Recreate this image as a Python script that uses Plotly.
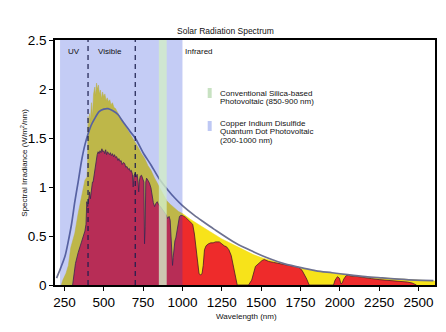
import plotly.graph_objects as go

# ---------------- data ----------------
# Extraterrestrial spectrum (yellow)
am0_nm = [230, 240, 260, 275, 290, 300, 316, 337, 360, 380, 393, 397, 400, 405, 410, 415,
          422, 428, 435, 443, 448, 454, 460, 466, 472, 478, 486, 492, 500, 507, 515, 522,
          530, 538, 546, 555, 565, 575, 585, 600, 615, 630, 645, 660, 675, 690, 705, 720,
          740, 760, 780, 800, 820, 840, 860, 880, 900, 925, 950, 975, 1000, 1050, 1100,
          1150, 1200, 1250, 1300, 1350, 1400, 1450, 1500, 1550, 1600, 1650, 1700, 1750,
          1800, 1850, 1900, 1950, 2000, 2100, 2200, 2300, 2400, 2500, 2605]
am0_val = [0.0, 0.05, 0.12, 0.20, 0.38, 0.45, 0.53, 0.73, 0.90, 1.07, 1.10, 1.21, 1.72, 1.60,
           1.75, 1.68, 1.86, 1.72, 1.95, 2.02, 1.93, 2.06, 2.00, 2.04, 1.95, 1.99, 1.90, 1.97,
           1.92, 1.95, 1.88, 1.91, 1.87, 1.89, 1.84, 1.86, 1.81, 1.80, 1.77, 1.72, 1.68, 1.64,
           1.60, 1.56, 1.52, 1.49, 1.44, 1.40, 1.34, 1.29, 1.22, 1.17, 1.10, 1.04, 0.97, 0.91,
           0.86, 0.82, 0.78, 0.75, 0.73, 0.67, 0.62, 0.57, 0.52, 0.47, 0.43, 0.39, 0.35, 0.31,
           0.28, 0.255, 0.23, 0.21, 0.19, 0.17, 0.155, 0.14, 0.13, 0.12, 0.11, 0.095, 0.08,
           0.07, 0.06, 0.05, 0.04]

# Sea-level spectrum (red)
am15_nm = [302, 310, 320, 337, 350, 359, 370, 380, 387, 392, 398, 403, 410, 415, 422, 428,
           432, 440, 446, 452, 458, 464, 470, 476, 482, 488, 494, 500, 506, 512, 518, 524,
           530, 536, 542, 548, 555, 562, 568, 575, 582, 590, 596, 603, 610, 617, 625, 633,
           640, 647, 655, 662, 668, 675, 682, 687, 692, 700, 706, 712, 718, 722, 726, 732,
           740, 748, 755, 759, 763, 767, 772, 780, 790, 800, 808, 815, 823, 830, 840, 848,
           860, 880, 895, 905, 915, 922, 928, 933, 937, 941, 946, 952, 958, 965, 972, 981,
           990, 1000, 1020, 1040, 1055, 1065, 1076, 1085, 1095, 1105, 1115, 1125, 1132, 1140,
           1150, 1165, 1180, 1195, 1210, 1234, 1250, 1265, 1280, 1295, 1310, 1322, 1330, 1340,
           1348, 1420, 1440, 1464, 1490, 1506, 1520, 1549, 1580, 1612, 1640, 1675, 1710, 1739,
           1760, 1775, 1790, 1800, 1806, 1960, 1970, 1985, 1997, 2008, 2015, 2025, 2040, 2055,
           2075, 2097, 2130, 2163, 2203, 2250, 2300, 2350, 2393, 2430, 2460, 2487]
am15_val = [0.0, 0.08, 0.22, 0.33, 0.40, 0.45, 0.50, 0.55, 0.62, 0.85, 0.80, 0.90, 0.95, 0.88,
            0.98, 1.05, 1.05, 1.15, 1.24, 1.30, 1.33, 1.36, 1.34, 1.37, 1.35, 1.39, 1.36, 1.37,
            1.34, 1.38, 1.33, 1.36, 1.35, 1.33, 1.35, 1.32, 1.34, 1.31, 1.33, 1.30, 1.31, 1.27,
            1.29, 1.26, 1.27, 1.23, 1.25, 1.24, 1.20, 1.21, 1.18, 1.19, 1.16, 1.17, 1.13, 1.00,
            1.12, 1.14, 1.10, 1.13, 1.05, 0.95, 1.06, 1.11, 1.12, 1.09, 1.05, 0.42, 0.60, 1.05,
            1.09, 1.07, 1.04, 0.99, 0.90, 0.84, 0.80, 0.83, 0.85, 0.82, 0.80, 0.75, 0.72, 0.68,
            0.70, 0.66, 0.52, 0.30, 0.20, 0.28, 0.37, 0.45, 0.48, 0.55, 0.60, 0.70, 0.71, 0.71,
            0.69, 0.66, 0.64, 0.62, 0.52, 0.40, 0.25, 0.12, 0.10, 0.12, 0.20, 0.36, 0.40, 0.42,
            0.43, 0.43, 0.44, 0.44, 0.42, 0.40, 0.39, 0.36, 0.30, 0.20, 0.12, 0.05, 0.0, 0.0,
            0.05, 0.19, 0.23, 0.25, 0.26, 0.24, 0.23, 0.22, 0.21, 0.20, 0.19, 0.18, 0.15, 0.11,
            0.06, 0.02, 0.0, 0.0, 0.05, 0.085, 0.07, 0.01, 0.02, 0.06, 0.095, 0.10, 0.088, 0.09,
            0.08, 0.072, 0.065, 0.055, 0.05, 0.04, 0.035, 0.03, 0.02, 0.0]

# Black-body reference curve
bb_nm = [200, 225, 253, 275, 295, 316, 337, 359, 380, 400, 420, 443, 470, 500, 527, 555, 590,
         620, 643, 670, 700, 750, 802, 850, 907, 950, 1000, 1076, 1128, 1200, 1340, 1450,
         1551, 1650, 1772, 1850, 1951, 2050, 2163, 2270, 2373, 2480, 2595]
bb_val = [0.07, 0.17, 0.29, 0.45, 0.62, 0.85, 1.05, 1.27, 1.43, 1.54, 1.63, 1.70, 1.77, 1.795,
          1.80, 1.78, 1.74, 1.67, 1.62, 1.56, 1.50, 1.35, 1.22, 1.09, 0.97, 0.89, 0.81, 0.71,
          0.65, 0.57, 0.425, 0.34, 0.27, 0.215, 0.17, 0.145, 0.125, 0.105, 0.085, 0.072, 0.06,
          0.05, 0.045]

x_ticks = [250, 500, 750, 1000, 1250, 1500, 1750, 2000, 2250, 2500]
y_ticks = [0, 0.5, 1, 1.5, 2, 2.5]
y_ticklabels = ["0", "0.5", "1", "1.5", "2", "2.5"]

qd_band = [222, 1000]        # Copper Indium Disulfide QD photovoltaic band
si_band = [850, 900]         # conventional silica photovoltaic band
region_lines = [400, 700]    # UV / Visible / Infrared boundaries
region_labels = ["UV", "Visible", "Infrared"]
region_label_x = [312, 538, 1108]

legend_texts = [["Conventional Silica-based", "Photovoltaic (850-900 nm)"],
                ["Copper Indium Disulfide", "Quantum Dot Photovoltaic", "(200-1000 nm)"]]

FONT = "Liberation Sans, Arial, sans-serif"
X_RANGE = [190, 2605]
Y_RANGE = [0, 2.5]

fig = go.Figure()
fig.add_trace(go.Scatter(x=am0_nm, y=am0_val, mode="lines", fill="tozeroy",
                         fillcolor="#f7e31a", line=dict(color="#f0d818", width=0.5),
                         showlegend=False, hoverinfo="skip"))
fig.add_trace(go.Scatter(x=am15_nm, y=am15_val, mode="lines", fill="tozeroy",
                         fillcolor="#ee2b2b", line=dict(color="#4a1a28", width=0.8),
                         showlegend=False, hoverinfo="skip"))
fig.add_trace(go.Scatter(x=bb_nm, y=bb_val, mode="lines",
                         line=dict(color="#6d7190", width=1.7, shape="spline", smoothing=0.8),
                         showlegend=False, hoverinfo="skip"))

# bands (drawn above the traces)
fig.add_shape(type="rect", xref="x", yref="y", x0=qd_band[0], x1=qd_band[1],
              y0=Y_RANGE[0], y1=Y_RANGE[1], fillcolor="rgba(20,50,215,0.25)",
              line=dict(width=0), layer="above")
fig.add_shape(type="rect", xref="x", yref="y", x0=si_band[0], x1=si_band[1],
              y0=Y_RANGE[0], y1=Y_RANGE[1], fillcolor="rgba(210,236,200,0.8)",
              line=dict(width=0), layer="above")
for xv in region_lines:
    fig.add_shape(type="line", xref="x", yref="y", x0=xv, x1=xv, y0=Y_RANGE[0], y1=Y_RANGE[1],
                  line=dict(color="#1c1e4e", width=1.2, dash="5px,4px"), layer="above")

for lab, xv in zip(region_labels, region_label_x):
    fig.add_annotation(x=xv, y=2.38, xref="x", yref="y", text=lab, showarrow=False,
                       xanchor="center", yanchor="middle",
                       font=dict(family=FONT, size=8, color="#111"))

# legend (custom)
def px_to_paper(px, py):
    return (px - 55) / 382.0, (285 - py) / 245.0

legend_colors = ["rgb(200,226,194)", "rgb(190,200,244)"]
legend_rect_y = [(88, 98), (121, 131)]
legend_line_y = [[93, 101.5], [123.3, 131.7, 140]]
for col, (ya, yb), lines, ys in zip(legend_colors, legend_rect_y, legend_texts, legend_line_y):
    x0, y0 = px_to_paper(208.5, yb)
    x1, y1 = px_to_paper(212.5, ya)
    fig.add_shape(type="rect", xref="paper", yref="paper", x0=x0, x1=x1, y0=y0, y1=y1,
                  fillcolor=col, line=dict(width=0), layer="above")
    for t, yy in zip(lines, ys):
        ax, ay = px_to_paper(219, yy)
        fig.add_annotation(x=ax, y=ay, xref="paper", yref="paper", text=t, showarrow=False,
                           xanchor="left", yanchor="middle",
                           font=dict(family=FONT, size=8, color="#111"))

# titles
tx, ty = px_to_paper(226.5, 31)
fig.add_annotation(x=tx, y=ty, xref="paper", yref="paper", text="Solar Radiation Spectrum",
                   showarrow=False, xanchor="center", yanchor="middle",
                   font=dict(family=FONT, size=8.5, color="#111"))
xx, xy = px_to_paper(248, 316)
fig.add_annotation(x=xx, y=xy, xref="paper", yref="paper", text="Wavelength (nm)",
                   showarrow=False, xanchor="center", yanchor="middle",
                   font=dict(family=FONT, size=8, color="#111"))
yx, yy_ = px_to_paper(23, 162.5)
fig.add_annotation(x=yx, y=yy_, xref="paper", yref="paper",
                   text="Spectral Irradiance (W/m<sup>2</sup>/nm)", textangle=-90,
                   showarrow=False, xanchor="center", yanchor="middle",
                   font=dict(family=FONT, size=8, color="#111"))

axis_common = dict(showline=True, linecolor="black", linewidth=1.6, mirror=True,
                   ticks="outside", ticklen=4, tickwidth=1.2, tickcolor="black",
                   showgrid=False, zeroline=False,
                   tickfont=dict(family=FONT, size=13.5, color="black"))
fig.update_xaxes(range=X_RANGE, tickvals=x_ticks, **axis_common)
fig.update_yaxes(range=Y_RANGE, tickvals=y_ticks, ticktext=y_ticklabels, **axis_common)

fig.update_layout(width=446, height=332, margin=dict(l=55, r=9, t=40, b=47),
                  paper_bgcolor="white", plot_bgcolor="white", showlegend=False)

fig.write_html("out.html")
